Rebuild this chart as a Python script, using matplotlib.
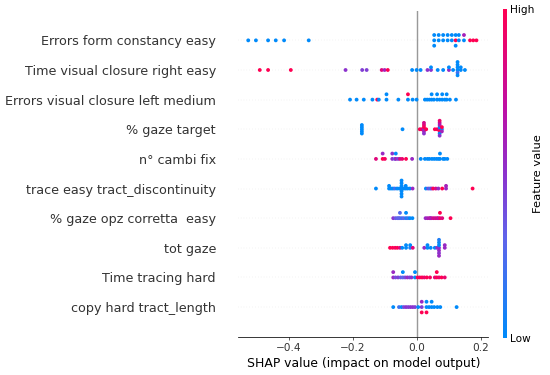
import numpy as np
import matplotlib
matplotlib.use('Agg')
import matplotlib.pyplot as plt
from matplotlib.colors import LinearSegmentedColormap

# features, top to bottom
features = ['Errors form constancy easy',
            'Time visual closure right easy',
            'Errors visual closure left medium',
            '% gaze target',
            'n° cambi fix',
            'trace easy tract_discontinuity',
            '% gaze opz corretta  easy',
            'tot gaze',
            'Time tracing hard',
            'copy hard tract_length']

shap_errors_form = [-0.526, -0.502, -0.464, -0.44, -0.414, -0.337,
                    0.055, 0.055, 0.055, 0.069, 0.069, 0.083, 0.083, 0.097, 0.097,
                    0.11, 0.11, 0.122, 0.122, 0.122, 0.132, 0.132, 0.148, 0.148,
                    0.167, 0.177, 0.187]
feat_errors_form = [0, 0, 0, 0, 0, 0,
                    0, 0, 0, 0, 0, 0, 0, 0, 0,
                    0, 0, 1.0, 0, 0, 0, 0, 0, 0.6,
                    1.0, 1.0, 1.0]

shap_time_visual = [-0.49, -0.464, -0.393, -0.222, -0.17, -0.156,
                    -0.109, -0.1, -0.09, -0.014, 0.0, 0.0125,
                    0.034, 0.045, 0.045, 0.066, 0.083, 0.101, 0.101, 0.114,
                    0.128, 0.128, 0.128, 0.128, 0.128, 0.128, 0.138, 0.138, 0.151]
feat_time_visual = [1.0, 1.0, 1.0, 0.5, 0.45, 0.45,
                    0.85, 0.6, 1.0, 0, 0, 0,
                    0.5, 0.5, 0, 0, 0, 0.55, 0, 0,
                    0, 0, 0.2, 0, 0, 0, 0, 0, 0]

shap_errors_visual = [-0.208, -0.1875, -0.165, -0.138, -0.123, -0.118,
                      -0.094, -0.094, -0.057, -0.027, -0.027, -0.0125, 0.0,
                      0.026, 0.033, 0.04, 0.047, 0.047, 0.054, 0.064, 0.064, 0.072,
                      0.08, 0.08, 0.088, 0.094, 0.094, 0.104, 0.123]
feat_errors_visual = [0, 0, 0, 0, 1.0, 0,
                      0, 0, 0, 0, 1.0, 0, 0,
                      0, 0, 0, 0, 0, 0, 0, 0, 0,
                      0, 0, 0, 0, 0, 0, 0]

shap_gaze_target = [-0.171, -0.171, -0.171, -0.171, -0.171, -0.044,
                    0.01, 0.016, 0.023, 0.023, 0.023, 0.023, 0.023, 0.023, 0.03,
                    0.057, 0.064, 0.072, 0.072, 0.072, 0.072, 0.072, 0.072, 0.072, 0.072,
                    0.079, 0.079, 0.079]
feat_gaze_target = [0, 0, 0, 0, 0, 0,
                    1.0, 0.9, 0.55, 1.0, 0.6, 0.9, 0.5, 0.8, 1.0,
                    1.0, 1.0, 0.55, 0.0, 1.0, 0.6, 0.0, 0.7, 0.5, 0.9,
                    0.0, 1.0, 0.6]

shap_cambi_fix = [-0.127, -0.106, -0.106, -0.099, -0.076, -0.076, -0.068,
                  -0.065, -0.065, -0.058, -0.052, -0.045, -0.033, -0.014,
                  0.013, 0.026, 0.034, 0.04, 0.048, 0.055, 0.062, 0.068,
                  0.073, 0.073, 0.083, 0.088, 0.096]
feat_cambi_fix = [0.85, 1.0, 0.55, 0.95, 0.5, 0.5, 0.3,
                  0.6, 0.0, 0.45, 0.8, 0.9, 1.0, 0.55,
                  0, 0, 0, 0, 0, 0, 0, 0,
                  0, 0, 0, 0, 0]

shap_trace_disc = [-0.127, -0.086, -0.086, -0.08, -0.074, -0.068, -0.061, -0.054,
                   -0.047, -0.047, -0.047, -0.047, -0.047, -0.047, -0.047,
                   -0.04, -0.034, -0.034, -0.028, -0.021, -0.0125,
                   0.029, 0.036, 0.042, 0.047, 0.052, 0.06, 0.068, 0.08,
                   0.092, 0.092, 0.175]
feat_trace_disc = [0, 0, 0, 0, 0, 0.2, 0, 0,
                   0, 0, 0, 0, 0, 0, 0,
                   0, 0, 0, 0, 0, 0.55,
                   0, 0.4, 0.2, 0.5, 1.0, 0.8, 0.55, 1.0,
                   0.55, 0.6, 1.0]

shap_gaze_opz = [-0.073, -0.066, -0.06, -0.056, -0.052, -0.052, -0.046, -0.04,
                 -0.033, -0.033, -0.027, -0.021, -0.013,
                 0.028, 0.034, 0.04, 0.043, 0.046, 0.052, 0.058, 0.064, 0.068,
                 0.073, 0.073, 0.08, 0.106]
feat_gaze_opz = [0.5, 0.35, 0.3, 0.3, 0.3, 0.25, 0.2, 0.3,
                 0.1, 0.0, 0.2, 0.0, 0.0,
                 0.55, 0.6, 0.7, 0.6, 0.65, 0.8, 0.75, 0.85, 0.7,
                 0.9, 1.0, 0.85, 1.0]

shap_tot_gaze = [-0.083, -0.075, -0.067, -0.06, -0.052, -0.045,
                 -0.033, -0.033, -0.02, -0.02, -0.012,
                 0.024, 0.034, 0.034, 0.044, 0.057, 0.064,
                 0.07, 0.07, 0.07, 0.07, 0.07, 0.07, 0.07, 0.088, 0.088]
feat_tot_gaze = [1.0, 1.0, 0.95, 1.0, 0.8, 0.0,
                 0.0, 0.0, 0.1, 0.0, 0.85,
                 0.55, 0.0, 0.0, 0.0, 0.0, 0.5,
                 0.5, 0.0, 0.55, 0.0, 0.5, 0.1, 0.55, 0.55, 0.55]

shap_tracing_hard = [-0.073, -0.073, -0.066, -0.058, -0.05, -0.043, -0.043, -0.036,
                     -0.029, -0.022, -0.016, -0.005, -0.005,
                     0.003, 0.01, 0.017, 0.024, 0.032, 0.042, 0.057,
                     0.063, 0.063, 0.07, 0.078, 0.088]
feat_tracing_hard = [0.55, 0.55, 0.4, 0.45, 0.35, 0.3, 0.0, 0.4,
                     0.55, 0.45, 0.5, 0.0, 0.0,
                     1.0, 0.95, 1.0, 0.9, 1.0, 0.95, 0.85,
                     1.0, 1.0, 0.9, 1.0, 0.9]

shap_copy_length = [-0.073, -0.055, -0.047, -0.04, -0.033, -0.026, -0.019, -0.012,
                    -0.005, 0.005, 0.016, 0.016, 0.016, 0.031, 0.031, 0.031,
                    0.039, 0.047, 0.047, 0.055, 0.065, 0.074, 0.125]
feat_copy_length = [0.0, 0.2, 0.0, 0.4, 0.5, 0.45, 0.5, 0.5,
                    0.45, 0.0, 0.45, 0.55, 1.0, 0.0, 0.0, 1.0,
                    0.0, 0.0, 0.0, 0.0, 0.0, 0.0, 0.0]

shap_rows = [shap_errors_form, shap_time_visual, shap_errors_visual, shap_gaze_target,
             shap_cambi_fix, shap_trace_disc, shap_gaze_opz, shap_tot_gaze,
             shap_tracing_hard, shap_copy_length]
feat_rows = [feat_errors_form, feat_time_visual, feat_errors_visual, feat_gaze_target,
             feat_cambi_fix, feat_trace_disc, feat_gaze_opz, feat_tot_gaze,
             feat_tracing_hard, feat_copy_length]

xticks = [-0.4, -0.2, 0.0, 0.2]


def swarm_offsets(vals, nbins=100, row_height=0.4):
    # same stacking as the shap beeswarm
    vals = np.asarray(vals, dtype=float)
    quant = np.round(nbins * (vals - vals.min()) / (vals.max() - vals.min() + 1e-8))
    inds = np.argsort(quant, kind='stable')
    ys = np.zeros(len(vals))
    layer = 0
    last_bin = -1
    for i in inds:
        if quant[i] != last_bin:
            layer = 0
        ys[i] = np.ceil(layer / 2) * ((layer % 2) * 2 - 1)
        layer += 1
        last_bin = quant[i]
    ys *= 0.9 * (row_height / np.max(ys + 1))
    return ys


if __name__ == '__main__':

    cmap = LinearSegmentedColormap.from_list('red_blue', [
        (0.0, (0 / 255, 138 / 255, 250 / 255)),
        (0.3, (95 / 255, 100 / 255, 235 / 255)),
        (0.5, (140 / 255, 50 / 255, 205 / 255)),
        (0.7, (190 / 255, 15 / 255, 165 / 255)),
        (1.0, (255 / 255, 0 / 255, 82 / 255))])

    dpi = 68.75
    fig = plt.figure(figsize=(550 / dpi, 375 / dpi), dpi=dpi)
    ax = fig.add_axes([0.4333, 0.1021, 0.4545, 0.8693])

    n = len(features)
    ax.axvline(0, color='#999999', zorder=-1)
    for i in range(n):
        pos = n - 1 - i
        ax.axhline(pos, color='#cccccc', lw=0.5, dashes=(1, 5), zorder=-1)
        vals = np.array(shap_rows[i])
        ys = swarm_offsets(vals)
        ax.scatter(vals, pos + ys, c=feat_rows[i], cmap=cmap, vmin=0, vmax=1,
                   s=16, alpha=1, linewidth=0, zorder=3)

    ax.set_yticks(range(n))
    ax.set_yticklabels(features[::-1], fontsize=13.3)
    ax.set_ylim(-1, n)
    ax.set_xlim(-0.557, 0.224)
    ax.set_xticks(xticks)
    ax.set_xticklabels(['\u22120.4', '\u22120.2', '0.0', '0.2'])
    ax.set_xlabel('SHAP value (impact on model output)', fontsize=13)

    for s in ['right', 'top', 'left']:
        ax.spines[s].set_visible(False)
    ax.xaxis.set_ticks_position('bottom')
    ax.tick_params(axis='y', length=0, pad=23.5)
    ax.tick_params(axis='x', labelsize=11)
    ax.tick_params(color='#333333', labelcolor='#333333')

    # colorbar
    cax = fig.add_axes([502.7 / 550, 1 - 337.7 / 375, 4 / 550, 328.4 / 375])
    sm = plt.cm.ScalarMappable(cmap=cmap, norm=plt.Normalize(0, 1))
    cb = fig.colorbar(sm, cax=cax, ticks=[0, 1])
    cb.set_ticklabels(['Low', 'High'])
    cb.ax.tick_params(labelsize=11, length=0)
    cb.outline.set_visible(False)
    fig.text(538 / 550, 1 - 174 / 375, 'Feature value', rotation=90,
             ha='center', va='center', fontsize=12)

    fig.savefig('out.png', dpi=dpi)
